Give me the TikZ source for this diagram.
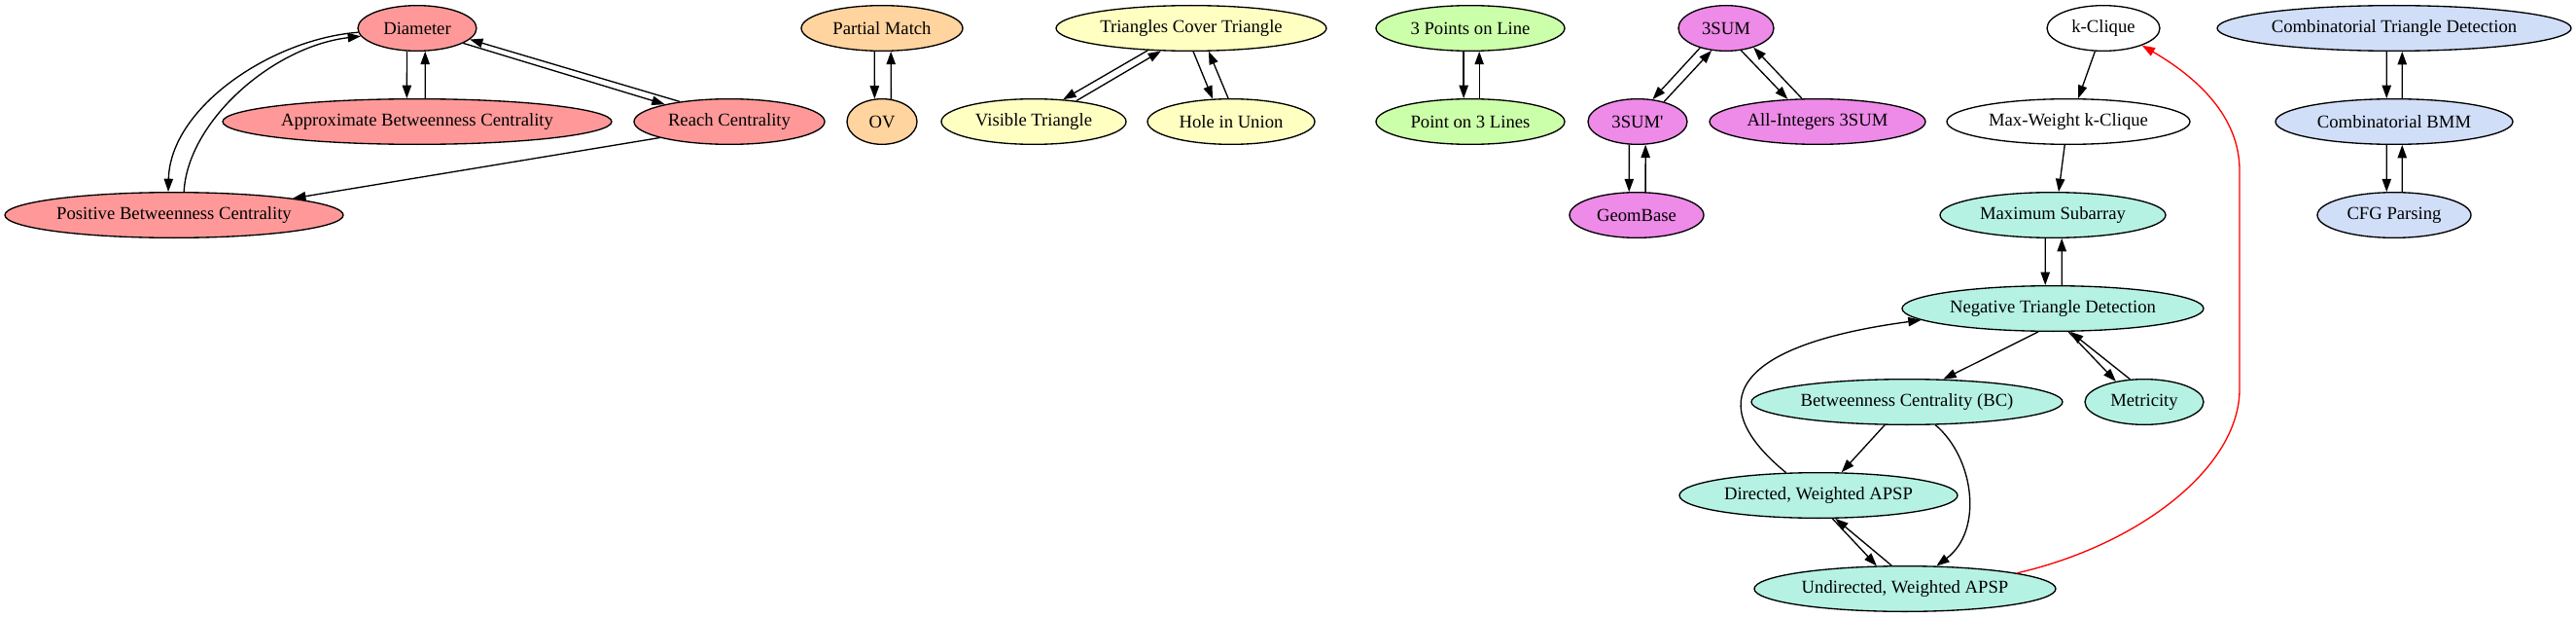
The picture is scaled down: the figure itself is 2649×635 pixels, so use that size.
\documentclass[tikz,border=0pt]{standalone}
\usepackage{fontspec}
\setmainfont{Liberation Serif}[Ligatures=TeXOff]
\usetikzlibrary{shapes.geometric,arrows.meta}
\definecolor{cred}{HTML}{FF9999}
\definecolor{corange}{HTML}{FFD49E}
\definecolor{cyellow}{HTML}{FFFFC2}
\definecolor{cgreen}{HTML}{CCFFAA}
\definecolor{cpurple}{HTML}{EE8AE8}
\definecolor{cteal}{HTML}{B5F2E3}
\definecolor{cblue}{HTML}{D0DEF8}
\begin{document}
\begin{tikzpicture}[x=0.75pt,y=-0.75pt,
  nd/.style={ellipse,draw=black,line width=1pt,inner sep=0pt,minimum height=35pt,font=\fontsize{14pt}{16pt}\selectfont},
  ed/.style={draw=black,line width=1pt,-{Triangle[length=10pt,width=7pt]}},
  rd/.style={draw=red,line width=1pt,-{Triangle[length=10pt,width=7pt]}}]
\useasboundingbox (0,0) rectangle (2649,635);
% red group
\node[nd,fill=cred,minimum width=91.5pt] (dia) at (429,29) {Diameter};
\node[nd,fill=cred,minimum width=300pt] (abc) at (429,125) {Approximate Betweenness Centrality};
\node[nd,fill=cred,minimum width=147pt] (reach) at (750,125) {Reach Centrality};
\node[nd,fill=cred,minimum width=261pt] (pos) at (179,221) {Positive Betweenness Centrality};
% orange
\node[nd,fill=corange,minimum width=124.5pt] (pm) at (907,29) {Partial Match};
\node[nd,fill=corange,minimum width=54pt] (ov) at (907,125) {OV};
% yellow
\node[nd,fill=cyellow,minimum width=208.5pt] (tct) at (1225,29) {Triangles Cover Triangle};
\node[nd,fill=cyellow,minimum width=142.5pt] (vt) at (1063,125) {Visible Triangle};
\node[nd,fill=cyellow,minimum width=129pt] (hu) at (1266,125) {Hole in Union};
% green
\node[nd,fill=cgreen,minimum width=145.5pt] (tpl) at (1512,29) {3 Points on Line};
\node[nd,fill=cgreen,minimum width=145.5pt] (pol) at (1512,125) {Point on 3 Lines};
% purple
\node[nd,fill=cpurple,minimum width=73.5pt] (s3) at (1775,29) {3SUM};
\node[nd,fill=cpurple,minimum width=76.5pt] (s3p) at (1684,125) {3SUM'};
\node[nd,fill=cpurple,minimum width=166.5pt] (ai) at (1869,125) {All-Integers 3SUM};
\node[nd,fill=cpurple,minimum width=103.5pt] (gb) at (1683,221) {GeomBase};
% white
\node[nd,fill=white,minimum width=87pt] (kc) at (2163,29) {k-Clique};
\node[nd,fill=white,minimum width=187.5pt] (mwk) at (2127,125) {Max-Weight k-Clique};
% teal
\node[nd,fill=cteal,minimum width=174pt] (ms) at (2111,221) {Maximum Subarray};
\node[nd,fill=cteal,minimum width=232.5pt] (ntd) at (2111,317) {Negative Triangle Detection};
\node[nd,fill=cteal,minimum width=240pt] (bc) at (1961,413) {Betweenness Centrality (BC)};
\node[nd,fill=cteal,minimum width=91.5pt] (met) at (2205,413) {Metricity};
\node[nd,fill=cteal,minimum width=214.5pt] (dapsp) at (1870,509) {Directed, Weighted APSP};
\node[nd,fill=cteal,minimum width=232.5pt] (uapsp) at (1959,605) {Undirected, Weighted APSP};
% blue
\node[nd,fill=cblue,minimum width=273pt] (ctd) at (2462,29) {Combinatorial Triangle Detection};
\node[nd,fill=cblue,minimum width=183pt] (bmm) at (2462,125) {Combinatorial BMM};
\node[nd,fill=cblue,minimum width=118.5pt] (cfg) at (2462,221) {CFG Parsing};
% red group edges
\draw[ed] (dia.-114.6) -- (abc.114.6);
\draw[ed] (abc.71.6) -- (dia.-71.6);
\draw[ed] (dia.-18) -- (reach.165);
\draw[ed] (reach.158) -- (dia.-12);
\draw[ed] (dia.184) .. controls (280,40) and (175,110) .. (pos.104);
\draw[ed] (pos.67.4) .. controls (193,125) and (280,48) .. (dia.188.7);
\draw[ed] (reach.193) -- (pos.8.5);
% orange
\draw[ed] (pm.-108.4) -- (ov.108.9);
\draw[ed] (ov.68.8) -- (pm.-69.4);
% yellow
\draw[ed] (tct.-153.8) -- (vt.37.2);
\draw[ed] (vt.26.5) -- (tct.-143.8);
\draw[ed] (tct.-85) -- (hu.129);
\draw[ed] (hu.97) -- (tct.-53);
% green
\draw[ed] (tpl.-106.3) -- (pol.106.3);
\draw[ed] (pol.69.4) -- (tpl.-69.4);
% purple
\draw[ed] (s3.-143.5) -- (s3p.56.8);
\draw[ed] (s3p.37.1) -- (s3.-123.3);
\draw[ed] (s3.-56.7) -- (ai.143.4);
\draw[ed] (ai.124) -- (s3.-35.1);
\draw[ed] (s3p.-110.6) -- (gb.108.4);
\draw[ed] (gb.69.4) -- (s3p.-71.6);
% white
\draw[ed] (kc.-110.8) -- (mwk.67.4);
\draw[ed] (mwk.-99.5) -- (ms.76);
% teal
\draw[ed] (ms.-108.4) -- (ntd.108.4);
\draw[ed] (ntd.69.4) -- (ms.-69.4);
\draw[ed] (ntd.-122.2) -- (bc.32.2);
\draw[ed] (ntd.-56.2) -- (met.144);
\draw[ed] (met.122.8) -- (ntd.-53.7);
\draw[ed] (bc.-134.1) -- (dapsp.45.9);
\draw[ed] (bc.-39.1) .. controls (2030,470) and (2040,545) .. (uapsp.36.3);
\draw[ed] (dapsp.145.6) .. controls (1750,415) and (1780,355) .. (ntd.185.8);
\draw[ed] (dapsp.-59.6) -- (uapsp.141.9);
\draw[ed] (uapsp.120.3) -- (dapsp.-54.9);
\coordinate (r1) at (2303,400);
\coordinate (r2) at (2303,175);
\draw[rd] (uapsp.8) .. controls (2200,560) and (2303,480) .. (r1) -- (r2) .. controls (2303,120) and (2260,80) .. (kc.-24.5);
% blue
\draw[ed] (ctd.-108.4) -- (bmm.108.4);
\draw[ed] (bmm.71.6) -- (ctd.-71.6);
\draw[ed] (bmm.-108.4) -- (cfg.108.4);
\draw[ed] (cfg.71.6) -- (bmm.-71.6);
\end{tikzpicture}
\end{document}
